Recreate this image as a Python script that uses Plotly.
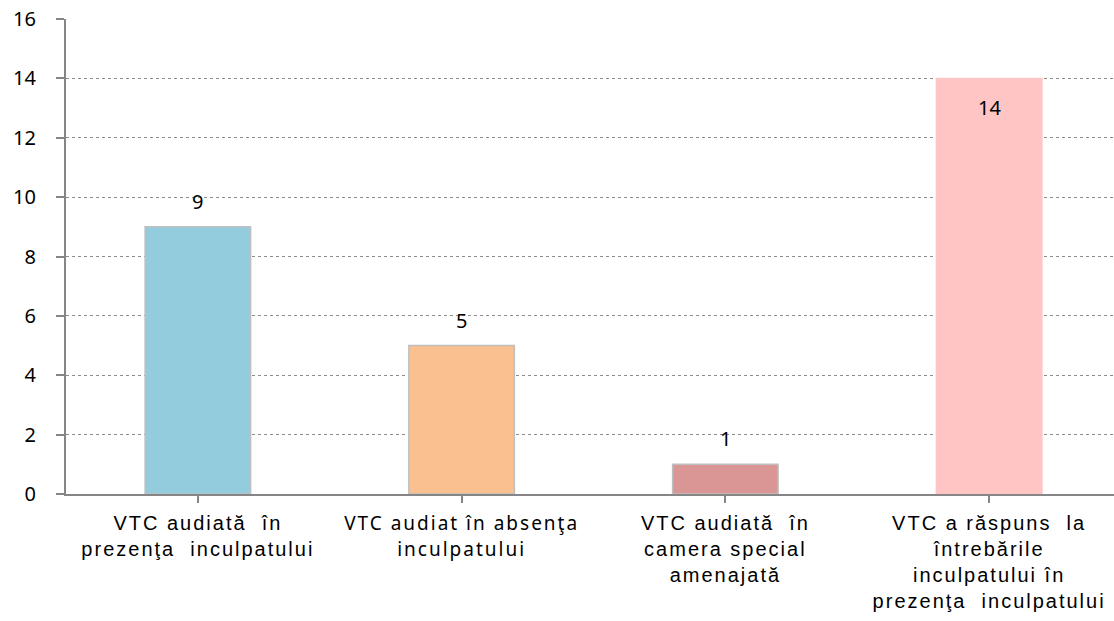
import plotly.graph_objects as go

categories = [
    "VTC audiată  în<br>prezenţa  inculpatului",
    "VTC audiat în absenţa<br>inculpatului",
    "VTC audiată  în<br>camera special<br>amenajată",
    "VTC a răspuns  la<br>întrebările<br>inculpatului în<br>prezenţa  inculpatului",
]
values = [9, 5, 1, 14]
colors = ["#93CDDD", "#FAC090", "#D99694", "#FFC5C5"]
outline = ["#BFBFBF", "#BFBFBF", "#BFBFBF", "#FFC5C5"]
y_ticks = [0, 2, 4, 6, 8, 10, 12, 14, 16]

idx = list(range(len(categories)))


def styled(label, i):
    if i == 1:
        style = "font-family:Noto Sans;font-size:19px;letter-spacing:2px"
    else:
        style = "letter-spacing:2px"
    return "<br>".join(
        '<span style="' + style + '">' + part + "</span>" for part in label.split("<br>")
    )


ticktext = [styled(c, i) for i, c in enumerate(categories)]

fig = go.Figure()
fig.add_trace(go.Bar(
    x=idx, y=values, width=0.40,
    marker=dict(color=colors, line=dict(color=outline, width=1.5)),
    hoverinfo="skip",
))

for i, v in zip(idx, values):
    inside = v == max(values)
    fig.add_annotation(
        x=i, y=v, text=str(v), showarrow=False,
        xanchor="center", yanchor="top" if inside else "bottom",
        yshift=-14 if inside else 10,
        font=dict(family="Noto Sans", size=20, color="#000000"),
    )

fig.update_layout(
    width=1114, height=621,
    margin=dict(l=66, r=0, t=19, b=127, autoexpand=False),
    plot_bgcolor="white", paper_bgcolor="white",
    showlegend=False,
)
fig.update_xaxes(
    tickmode="array", tickvals=idx, ticktext=ticktext,
    range=[-0.5, 3.4735],
    tickson="boundaries", ticks="outside", ticklen=7, tickwidth=1.5, tickcolor="#868686",
    showline=True, linecolor="#868686", linewidth=2,
    showgrid=False, zeroline=False,
    tickfont=dict(family="Liberation Sans, Arial", size=20, color="#000000"),
    ticklabelstandoff=3,
    ticklabeloverflow="allow",
    automargin=False,
)
fig.update_yaxes(
    range=[0, 16], tickmode="array", tickvals=y_ticks,
    ticks="outside", ticklen=8, tickwidth=1.5, tickcolor="#868686",
    showline=True, linecolor="#868686", linewidth=2,
    showgrid=True, gridcolor="#8C8C8C", griddash="dot", gridwidth=1,
    zeroline=False,
    tickfont=dict(family="Noto Sans", size=20, color="#000000"),
    ticklabelstandoff=16,
    ticklabeloverflow="allow",
    automargin=False,
)

fig.write_html(
    "out.html",
    config={"displayModeBar": False},
    post_script="document.body.style.margin='0';",
)
